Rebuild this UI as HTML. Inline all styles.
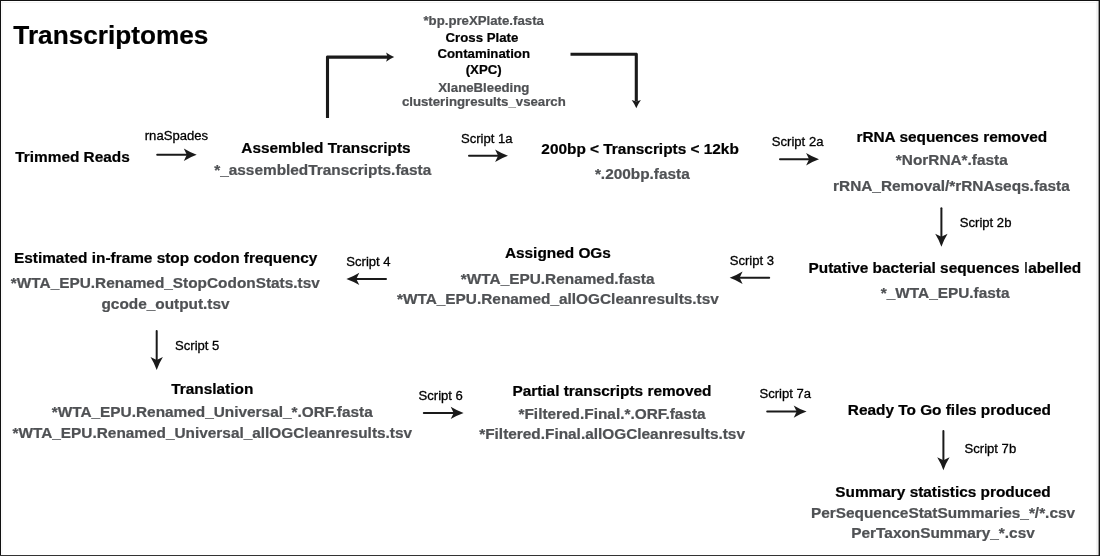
<!DOCTYPE html>
<html lang="en">
<head>
<meta charset="utf-8">
<title>Transcriptomes pipeline</title>
<style>
html,body{margin:0;padding:0;background:#fff;}
body{width:1100px;height:556px;overflow:hidden;position:relative;font-family:"Liberation Sans",sans-serif;}
#frame{position:absolute;left:0;top:0;width:1100px;height:556px;box-sizing:border-box;background:#fff;}
.bd{position:absolute;background:#111;}
.t{position:absolute;white-space:nowrap;line-height:1;font-weight:bold;-webkit-text-stroke:0.22px currentColor;font-family:"Liberation Sans",sans-serif;}
.k{color:#000;}
.g{color:#4f5154;}
.r{font-weight:normal;color:#000;-webkit-text-stroke:0.3px currentColor;}
.thin{font-weight:normal;display:inline-block;width:0.278em;text-align:center;}
svg{position:absolute;left:0;top:0;}
#txt{position:absolute;left:0;top:0;width:1100px;height:556px;will-change:transform;}
</style>
</head>
<body>
<div id="frame">
<div class="bd" style="left:0;top:0;width:1100px;height:1px"></div>
<div class="bd" style="left:0;top:0;width:1px;height:556px"></div>
<div class="bd" style="left:0;top:555px;width:1100px;height:1px;background:#333"></div>
<div class="bd" style="left:1px;top:2px;width:1096px;height:1px;background:#f3f3f3"></div>
<svg width="1100" height="556" viewBox="0 0 1100 556">
<rect x="1096.3" y="1" width="2.4" height="554" fill="#f0f0f0"/>
<rect x="1098.6" y="0" width="1.4" height="556" fill="#111"/>
<rect x="1.6" y="1" width="1" height="554" fill="#f6f6f6"/>
<g fill="#1a1a1a" stroke="none">
<!-- right arrows: tip x, y -->
<path d="M0.6,0 Q-6,-2.3 -12.3,-6.2 L-9.3,0 L-12.3,6.2 Q-6,2.3 0.6,0 Z" transform="translate(196.1,154.7)"/>
<path d="M0.6,0 Q-6,-2.3 -12.3,-6.2 L-9.3,0 L-12.3,6.2 Q-6,2.3 0.6,0 Z" transform="translate(507.4,155.7)"/>
<path d="M0.6,0 Q-6,-2.3 -12.3,-6.2 L-9.3,0 L-12.3,6.2 Q-6,2.3 0.6,0 Z" transform="translate(818.4,159.2)"/>
<path d="M0.6,0 Q-6,-2.3 -12.3,-6.2 L-9.3,0 L-12.3,6.2 Q-6,2.3 0.6,0 Z" transform="translate(463,412.9)"/>
<path d="M0.6,0 Q-6,-2.3 -12.3,-6.2 L-9.3,0 L-12.3,6.2 Q-6,2.3 0.6,0 Z" transform="translate(806,411.6)"/>
<!-- left arrows -->
<path d="M0.6,0 Q-6,-2.3 -12.3,-6.2 L-9.3,0 L-12.3,6.2 Q-6,2.3 0.6,0 Z" transform="translate(730.3,277.7) rotate(180)"/>
<path d="M0.6,0 Q-6,-2.3 -12.3,-6.2 L-9.3,0 L-12.3,6.2 Q-6,2.3 0.6,0 Z" transform="translate(347.0,278.9) rotate(180)"/>
<!-- down arrows -->
<path d="M0.6,0 Q-6,-2.3 -12.3,-6.2 L-9.3,0 L-12.3,6.2 Q-6,2.3 0.6,0 Z" transform="translate(941.4,246.1) rotate(90)"/>
<path d="M0.6,0 Q-6,-2.3 -12.3,-6.2 L-9.3,0 L-12.3,6.2 Q-6,2.3 0.6,0 Z" transform="translate(156.7,369.3) rotate(90)"/>
<path d="M0.6,0 Q-6,-2.3 -12.3,-6.2 L-9.3,0 L-12.3,6.2 Q-6,2.3 0.6,0 Z" transform="translate(943.4,469.6) rotate(90)"/>
<!-- small heads -->
<path d="M0.4,0 Q-3.9,-1.9 -7.7,-4.6 L-6.2,0 L-7.7,4.6 Q-3.9,1.9 0.4,0 Z" transform="translate(393.8,57.1)"/>
<path d="M0.4,0 Q-3.9,-1.9 -7.7,-4.6 L-6.2,0 L-7.7,4.6 Q-3.9,1.9 0.4,0 Z" transform="translate(636.3,107.8) rotate(90)"/>
</g>
<g fill="none" stroke="#1a1a1a" stroke-width="2" stroke-linecap="round">
<path d="M157.2,154.7 H187"/>
<path d="M469,155.7 H499"/>
<path d="M780,159.2 H809"/>
<path d="M423.8,412.9 H454"/>
<path d="M767.2,411.6 H797"/>
<path d="M769.2,277.7 H740"/>
<path d="M386,278.9 H356"/>
<path d="M941.4,208.2 V237"/>
<path d="M156.7,330.9 V360"/>
<path d="M943.4,431 V460"/>
</g>
<g fill="#1a1a1a" stroke="none">
<path d="M325.95,118.1 V56.5 L326.9,55.55 H388 V58.65 H329.05 V118.1 Z"/>
<path d="M570.5,52.75 H636.9 L637.85,53.7 V101.5 H634.75 V55.85 H570.5 Z"/>
</g>
</svg>

<div id="txt">
<div class="t k" style="left:13.35px;top:22px;font-size:26.2px">Transcriptomes</div>
<div class="t g" style="left:423.43px;top:14px;font-size:13.22px">*bp.preXPlate.fasta</div>
<div class="t k" style="left:445.56px;top:31px;font-size:13.22px">Cross Plate</div>
<div class="t k" style="left:437.48px;top:47px;font-size:13.22px">Contamination</div>
<div class="t k" style="left:465.72px;top:63px;font-size:13.22px">(XPC)</div>
<div class="t g" style="left:438.31px;top:81px;font-size:13.22px">XlaneBleeding</div>
<div class="t g" style="left:401.92px;top:95px;font-size:13.22px">clusteringresults_vsearch</div>
<div class="t k" style="left:15.25px;top:149px;font-size:15.38px">Trimmed Reads</div>
<div class="t r" style="left:144.78px;top:129px;font-size:13.08px">rnaSpades</div>
<div class="t k" style="left:241.37px;top:140px;font-size:15.38px">Assembled Transcripts</div>
<div class="t g" style="left:214.23px;top:162px;font-size:15.38px">*_assembledTranscripts.fasta</div>
<div class="t r" style="left:460.97px;top:132px;font-size:13.08px">Script 1a</div>
<div class="t k" style="left:541.36px;top:141px;font-size:15.38px">200bp &lt; Transcripts &lt; 12kb</div>
<div class="t g" style="left:594.88px;top:166px;font-size:15.38px">*.200bp.fasta</div>
<div class="t r" style="left:771.82px;top:135px;font-size:13.08px">Script 2a</div>
<div class="t k" style="left:856.42px;top:129px;font-size:15.38px">rRNA sequences removed</div>
<div class="t g" style="left:895.84px;top:152px;font-size:15.38px">*NorRNA*.fasta</div>
<div class="t g" style="left:833.09px;top:178px;font-size:15.38px">rRNA_Removal/*rRNAseqs.fasta</div>
<div class="t r" style="left:959.80px;top:216px;font-size:13.08px">Script 2b</div>
<div class="t k" style="left:808.51px;top:260px;font-size:15.38px">Putative bacterial sequences <span class="thin">l</span>abelled</div>
<div class="t g" style="left:880.76px;top:285px;font-size:15.38px">*_WTA_EPU.fasta</div>
<div class="t r" style="left:729.73px;top:254px;font-size:13.08px">Script 3</div>
<div class="t k" style="left:504.92px;top:245px;font-size:15.38px">Assigned OGs</div>
<div class="t g" style="left:460.82px;top:271px;font-size:15.38px">*WTA_EPU.Renamed.fasta</div>
<div class="t g" style="left:396.96px;top:291px;font-size:15.38px">*WTA_EPU.Renamed_allOGCleanresults.tsv</div>
<div class="t r" style="left:346.28px;top:255px;font-size:13.08px">Script 4</div>
<div class="t k" style="left:14.01px;top:250px;font-size:15.38px">Estimated in-frame stop codon frequency</div>
<div class="t g" style="left:10.82px;top:275px;font-size:15.38px">*WTA_EPU.Renamed_StopCodonStats.tsv</div>
<div class="t g" style="left:101.45px;top:296px;font-size:15.38px">gcode_output.tsv</div>
<div class="t r" style="left:175.03px;top:339px;font-size:13.08px">Script 5</div>
<div class="t k" style="left:171.27px;top:381px;font-size:15.38px">Translation</div>
<div class="t g" style="left:51.69px;top:404px;font-size:15.38px">*WTA_EPU.Renamed_Universal_*.ORF.fasta</div>
<div class="t g" style="left:12.44px;top:425px;font-size:15.38px">*WTA_EPU.Renamed_Universal_allOGCleanresults.tsv</div>
<div class="t r" style="left:418.53px;top:389px;font-size:13.08px">Script 6</div>
<div class="t k" style="left:512.41px;top:383px;font-size:15.38px">Partial transcripts removed</div>
<div class="t g" style="left:518.49px;top:406px;font-size:15.38px">*Filtered.Final.*.ORF.fasta</div>
<div class="t g" style="left:479.23px;top:426px;font-size:15.38px">*Filtered.Final.allOGCleanresults.tsv</div>
<div class="t r" style="left:759.42px;top:387px;font-size:13.08px">Script 7a</div>
<div class="t k" style="left:847.80px;top:402px;font-size:15.38px">Ready To Go files produced</div>
<div class="t r" style="left:964.55px;top:442px;font-size:13.08px">Script 7b</div>
<div class="t k" style="left:835.30px;top:484px;font-size:15.38px">Summary statistics produced</div>
<div class="t g" style="left:810.97px;top:505px;font-size:15.38px">PerSequenceStatSummaries_*/*.csv</div>
<div class="t g" style="left:851.31px;top:525px;font-size:15.38px">PerTaxonSummary_*.csv</div>
</div>
</div>
</body>
</html>
